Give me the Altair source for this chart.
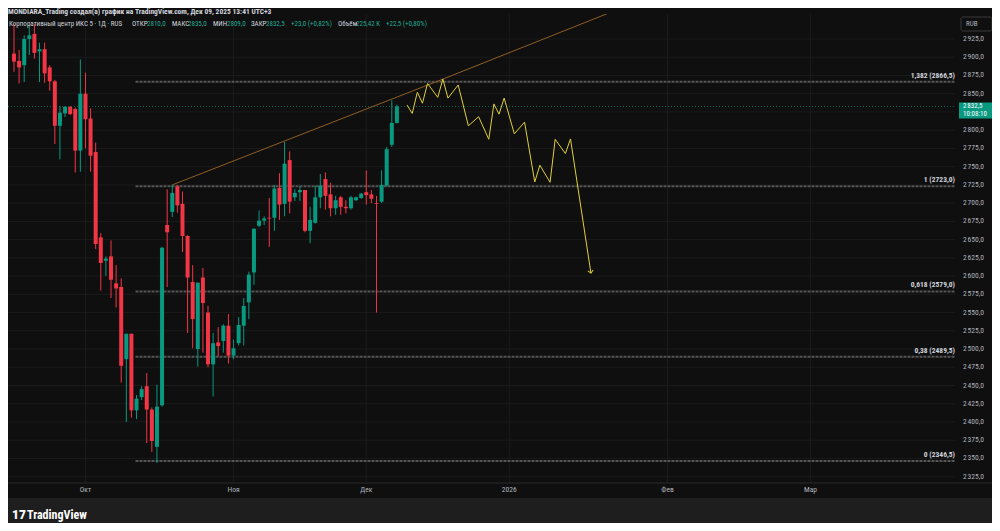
import altair as alt
import pandas as pd

# ---------------- data ----------------
bar_idx = list(range(76))
opens = [2905, 2895, 2889, 2925, 2932, 2908, 2911, 2886, 2867, 2806,
         2823, 2832, 2829, 2772, 2850, 2816, 2770, 2653, 2621, 2627,
         2590, 2585, 2486, 2521, 2416, 2434, 2449, 2417, 2366, 2423,
         2670, 2688, 2723, 2699, 2655, 2592, 2500, 2598, 2550, 2479,
         2509, 2511, 2532, 2491, 2508, 2532, 2564, 2605, 2669, 2676,
         2680, 2680, 2721, 2699, 2759, 2708, 2715, 2718, 2662, 2673,
         2708, 2733, 2712, 2693, 2708, 2695, 2693, 2704, 2707, 2715,
         2712, 2700, 2702, 2724, 2780, 2810]
highs = [2945, 2910, 2930, 2944, 2945, 2920, 2920, 2889, 2869, 2833,
         2833, 2833, 2831, 2897, 2879, 2830, 2783, 2659, 2627, 2649,
         2615, 2597, 2521, 2521, 2437, 2449, 2467, 2420, 2451, 2640,
         2719, 2725, 2725, 2716, 2656, 2615, 2591, 2611, 2559, 2522,
         2530, 2534, 2548, 2513, 2544, 2570, 2606, 2665, 2690, 2682,
         2707, 2725, 2741, 2784, 2771, 2719, 2723, 2718, 2695, 2724,
         2740, 2742, 2728, 2710, 2710, 2704, 2710, 2709, 2714, 2745,
         2718, 2710, 2745, 2777, 2841, 2835]
lows = [2880, 2864, 2866, 2903, 2898, 2866, 2865, 2854, 2781, 2760,
        2818, 2821, 2742, 2743, 2775, 2743, 2637, 2580, 2600, 2570,
        2557, 2454, 2400, 2406, 2404, 2430, 2371, 2359, 2344, 2421,
        2585, 2681, 2687, 2633, 2522, 2501, 2476, 2495, 2475, 2435,
        2490, 2495, 2480, 2486, 2505, 2505, 2541, 2588, 2667, 2670,
        2640, 2662, 2677, 2682, 2686, 2703, 2703, 2660, 2645, 2672,
        2693, 2691, 2682, 2684, 2684, 2686, 2691, 2703, 2706, 2698,
        2700, 2550, 2700, 2723, 2777, 2809]
closes = [2894, 2886, 2925, 2930, 2906, 2911, 2878, 2867, 2806, 2824,
          2832, 2822, 2772, 2850, 2815, 2765, 2644, 2618, 2624, 2595,
          2583, 2477, 2521, 2416, 2432, 2445, 2417, 2374, 2421, 2639,
          2660, 2714, 2697, 2655, 2598, 2541, 2591, 2563, 2479, 2508,
          2504, 2532, 2491, 2501, 2533, 2559, 2602, 2665, 2676, 2679,
          2679, 2720, 2698, 2754, 2702, 2714, 2718, 2662, 2677, 2708,
          2724, 2710, 2693, 2704, 2695, 2693, 2708, 2708, 2713, 2711,
          2706, 2699, 2725, 2774, 2810, 2832.5]

# projected path (yellow)
path_idx = [77, 78, 79, 80, 81, 83, 84, 85, 87, 89, 91, 93, 94, 95, 96,
            98, 100, 102, 103, 105, 106, 108, 109, 113]
path_price = [2834.5, 2823, 2852, 2837, 2864, 2845, 2870, 2844, 2862, 2806,
              2818.5, 2787.5, 2836, 2822, 2844, 2795, 2811, 2729, 2752,
              2728.5, 2787.5, 2768, 2788, 2604]

# trend line (ray)
trend_idx = [31, 84, 117]
trend_price = [2725, 2870, 2962]

# fibonacci levels
fib_start = 23.8
fib_levels = [2866.5, 2723.0, 2579.0, 2489.5, 2346.5]
fib_labels = ["1,382 (2866,5)", "1 (2723,0)", "0,618 (2579,0)",
              "0,38 (2489,5)", "0 (2346,5)"]

price_ticks = list(range(2325, 2926, 25))
month_idx = [14, 43, 69, 97, 128, 156]
month_labels = ["Окт", "Ноя", "Дек", "2026", "Фев", "Мар"]

last_price = 2832.5
last_price_text = "2\u202f832,5"
timer_text = "10:08:10"

title_text = "MONDIARA_Trading создал(а) график на TradingView.com, Дек 09, 2025 13:41 UTC+3"
legend_parts = ["Корпоративный центр ИКС 5 · 1Д · RUS", "ОТКР", "2810,0", "МАКС", "2835,0",
                "МИН", "2809,0", "ЗАКР", "2832,5", "+23,0 (+0,82%)", "Объём", "225,42 K",
                "+22,5 (+0,80%)"]
legend_kind = ["lab", "lab", "val", "lab", "val", "lab", "val", "lab", "val", "val",
               "lab", "val", "val"]

# ---------------- layout / style ----------------
W, H = 947, 469
GREEN = "#089981"
RED = "#f23645"
TXT = "#b2b5be"
FONT = "Liberation Sans Narrow, Roboto Condensed, Roboto, sans-serif"
legend_px = [1, 124, 139, 164, 180, 205, 219, 243, 258, 283, 330, 348, 378]

xs = alt.Scale(domain=[-0.194, 183.33], nice=False, zero=False)
ys = alt.Scale(domain=[2316.35, 2959.27], nice=False, zero=False)


def X(f):
    return alt.X(f, scale=xs, axis=None)


def Y(f):
    return alt.Y(f, scale=ys, axis=None)


one = pd.DataFrame({"k": [0]})

candles = pd.DataFrame({"i": bar_idx, "o": opens, "h": highs, "l": lows, "c": closes})
candles["dir"] = ["up" if c >= o else "down" for o, c in zip(opens, closes)]
dcol = alt.Color("dir:N", scale=alt.Scale(domain=["up", "down"], range=[GREEN, RED]), legend=None)

hgrid = alt.Chart(pd.DataFrame({"p": price_ticks})).mark_rule(color="#1b1b1b", strokeWidth=1).encode(
    y=Y("p:Q"), x=alt.value(0), x2=alt.value(W))
vgrid = alt.Chart(pd.DataFrame({"i": month_idx})).mark_rule(color="#1b1b1b", strokeWidth=1).encode(
    x=X("i:Q"), y=alt.value(0), y2=alt.value(H))

fib_df = pd.DataFrame({"s": [fib_start] * len(fib_levels), "lvl": fib_levels, "lab": fib_labels})
fib_lines = alt.Chart(fib_df).mark_rule(color="#555555", strokeWidth=2, strokeDash=[3, 1]).encode(
    x=X("s:Q"), x2=alt.value(W), y=Y("lvl:Q"))
fib_text = alt.Chart(fib_df).mark_text(align="right", baseline="middle", dy=-6, fontSize=7.5,
                                       fontWeight="bold", font=FONT, color="#d1d4dc").encode(
    x=alt.value(W), y=Y("lvl:Q"), text="lab:N")

cur_line = alt.Chart(pd.DataFrame({"p": [last_price]})).mark_rule(
    color=GREEN, strokeWidth=1, strokeDash=[1, 2], opacity=0.6).encode(
    y=Y("p:Q"), x=alt.value(0), x2=alt.value(W))

trend = alt.Chart(pd.DataFrame({"i": trend_idx, "p": trend_price})).mark_line(
    color="#8f5f22", strokeWidth=1, clip=True).encode(x=X("i:Q"), y=Y("p:Q"))

wicks = alt.Chart(candles).mark_rule(strokeWidth=1).encode(
    x=X("i:Q"), y=Y("l:Q"), y2="h:Q", color=dcol)
bodies = alt.Chart(candles).mark_bar(size=4).encode(
    x=X("i:Q"), y=Y("o:Q"), y2="c:Q", color=dcol)

path_df = pd.DataFrame({"i": path_idx, "p": path_price})
path = alt.Chart(path_df).mark_line(color="#e0cf38", strokeWidth=1).encode(
    x=X("i:Q"), y=Y("p:Q"))
arrow = alt.Chart(path_df.tail(1)).mark_point(
    shape="M-1,-1L0,0L1,-1", size=30, stroke="#e0cf38", strokeWidth=1, filled=False,
    angle=351, opacity=1).encode(x=X("i:Q"), y=Y("p:Q"))

price_lab = alt.Chart(pd.DataFrame({"p": price_ticks})).transform_filter(
    f"abs(datum.p - {last_price}) > 12"
).transform_calculate(
    lab="replace(replace(format(datum.p, ',.1f'), ',', '\u202f'), '.', ',')"
).mark_text(align="left", baseline="middle", fontSize=7.5, font=FONT, color=TXT).encode(
    x=alt.value(955), y=Y("p:Q"), text="lab:N")

month_lab = alt.Chart(pd.DataFrame({"i": month_idx, "m": month_labels})).mark_text(
    align="center", baseline="middle", fontSize=7.5, font=FONT, color=TXT).encode(
    x=X("i:Q"), y=alt.value(476), text="m:N")

tag_df = pd.DataFrame({"p": [last_price], "t1": [last_price_text], "t2": [timer_text]})
tag_rect = alt.Chart(tag_df).transform_calculate(
    top="datum.p + 5.5", bot="datum.p - 16.5").mark_rect(color=GREEN).encode(
    x=alt.value(951), x2=alt.value(984), y=Y("top:Q"), y2="bot:Q")
tag_t1 = alt.Chart(tag_df).mark_text(align="left", baseline="middle", fontSize=7, font=FONT,
                                     color="#ffffff", dy=-0.5).encode(
    x=alt.value(955), y=Y("p:Q"), text="t1:N")
tag_t2 = alt.Chart(tag_df).mark_text(align="left", baseline="middle", fontSize=7, font=FONT,
                                     color="#ffffff", dy=7.5).encode(
    x=alt.value(955), y=Y("p:Q"), text="t2:N")

rub_box = alt.Chart(one).mark_rect(fill="#0f0f0f", stroke="#3a3a3a", strokeWidth=1,
                                   cornerRadius=2).encode(
    x=alt.value(953), x2=alt.value(984), y=alt.value(3), y2=alt.value(17))
rub_txt = alt.Chart(one).mark_text(align="left", baseline="middle", fontSize=7, font=FONT,
                                   color=TXT, text="RUB").encode(
    x=alt.value(958), y=alt.value(10))

leg_df = pd.DataFrame({"t": legend_parts, "k": legend_kind, "px": legend_px})
legend_lab = alt.Chart(leg_df).transform_filter("datum.k == 'lab'").mark_text(
    align="left", baseline="middle", fontSize=7, font=FONT, color="#d1d4dc").encode(
    x=alt.X("px:Q", scale=None), y=alt.value(9.7), text="t:N")
legend_val = alt.Chart(leg_df).transform_filter("datum.k == 'val'").mark_text(
    align="left", baseline="middle", fontSize=7, font=FONT, color="#22ab94").encode(
    x=alt.X("px:Q", scale=None), y=alt.value(9.7), text="t:N")

title = alt.Chart(one).mark_text(align="left", baseline="middle", fontSize=7.5, font=FONT,
                                 fontWeight="bold", color="#d1d4dc", text=title_text).encode(
    x=alt.value(0), y=alt.value(-2.5))

bottom_border = alt.Chart(one).mark_rule(color="#2a2a2a", strokeWidth=1).encode(
    x=alt.value(0), x2=alt.value(984), y=alt.value(H))
footer = alt.Chart(one).mark_rect(color="#1e1e1e").encode(
    x=alt.value(0), x2=alt.value(984), y=alt.value(484), y2=alt.value(520))
logo = alt.Chart(one).mark_text(align="left", baseline="middle", fontSize=12, font="Roboto",
                                fontWeight=900, color="#ffffff", text="17").encode(
    x=alt.value(4), y=alt.value(501))
brand = alt.Chart(one).mark_text(align="left", baseline="middle", fontSize=12, font=FONT,
                                 fontWeight="bold", color="#ffffff", text="TradingView").encode(
    x=alt.value(19), y=alt.value(501))

chart = alt.layer(
    hgrid, vgrid, fib_lines, cur_line, trend, wicks, bodies, path, arrow,
    fib_text, price_lab, month_lab, tag_rect, tag_t1, tag_t2, rub_box, rub_txt,
    legend_lab, legend_val, title, bottom_border, footer, logo, brand
).properties(
    width=W, height=H,
    autosize=alt.AutoSizeParams(type="none"),
    padding={"left": 0, "top": 6, "right": 37, "bottom": 40},
).configure(background="#0f0f0f").configure_view(stroke=None)

chart.save("out.html", embed_options={"renderer": "svg", "actions": False})
